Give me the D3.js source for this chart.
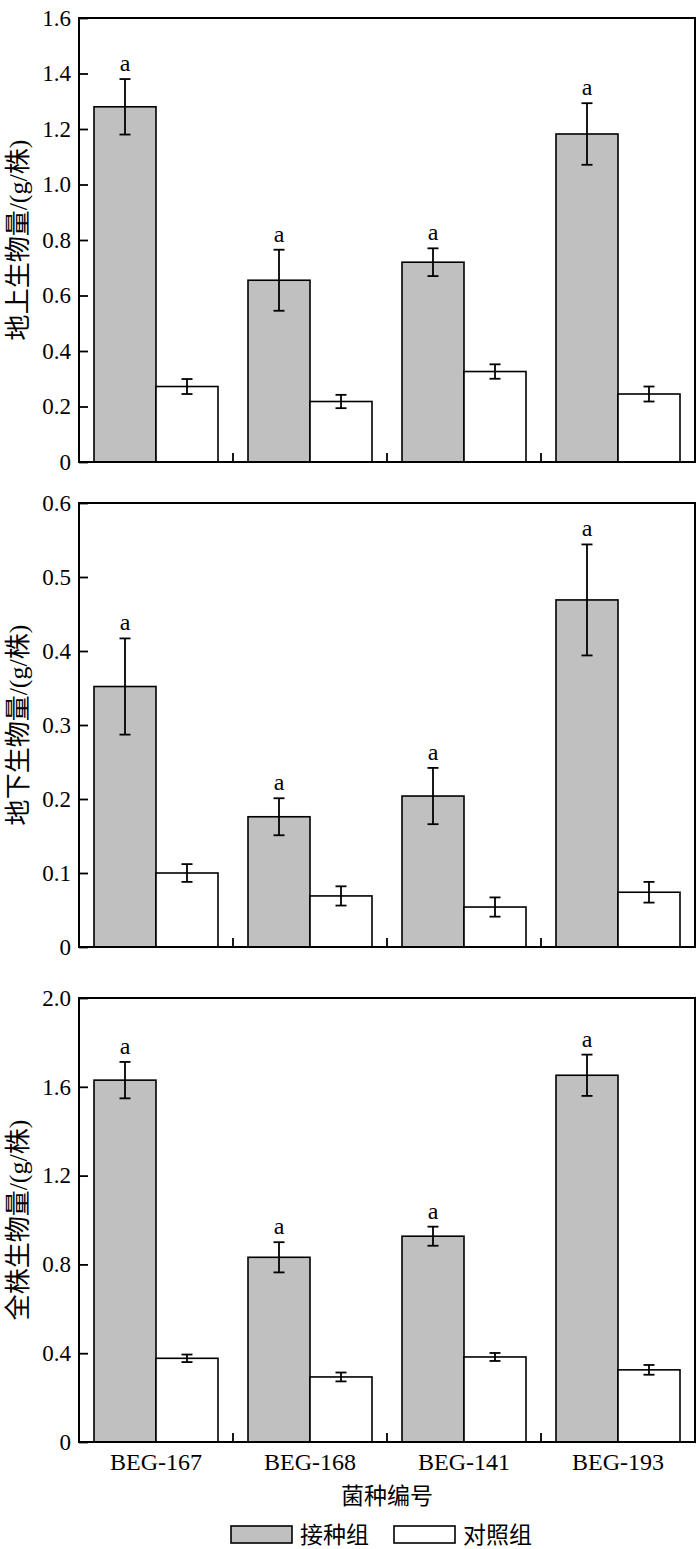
<!DOCTYPE html>
<html>
<head>
<meta charset="utf-8">
<script src="https://cdn.jsdelivr.net/npm/d3@7"></script>
<style>
  html, body { margin: 0; padding: 0; background: #fff; }
  svg text { font-family: "Liberation Serif", "Noto Sans CJK SC", serif; fill: #000; }
  .cjk { font-family: "Noto Sans CJK SC", sans-serif; }
</style>
</head>
<body>
<svg id="chart" width="700" height="1549"></svg>
<script>
// strains on the x axis
var categories = ["BEG-167", "BEG-168", "BEG-141", "BEG-193"];
var seriesNames = ["接种组", "对照组"];

// above-ground biomass (g/plant)
var aboveInoc = [1.28, 0.655, 0.72, 1.182],
  aboveInocErr = [0.10, 0.11, 0.05, 0.111],
  aboveCtrl = [0.272, 0.218, 0.326, 0.245],
  aboveCtrlErr = [0.027, 0.024, 0.026, 0.027];

// below-ground biomass (g/plant)
var belowInoc = [0.352, 0.176, 0.204, 0.469],
  belowInocErr = [0.065, 0.025, 0.038, 0.075],
  belowCtrl = [0.100, 0.069, 0.054, 0.074],
  belowCtrlErr = [0.012, 0.013, 0.013, 0.014];

// whole-plant biomass (g/plant)
var totalInoc = [1.63, 0.832, 0.927, 1.652],
  totalInocErr = [0.082, 0.068, 0.043, 0.093],
  totalCtrl = [0.377, 0.293, 0.383, 0.325],
  totalCtrlErr = [0.017, 0.020, 0.018, 0.022];

// significance letters over the inoculated bars
var letters = ["a", "a", "a", "a"];

// tick values per panel
var aboveTicks = [0, 0.2, 0.4, 0.6, 0.8, 1.0, 1.2, 1.4, 1.6],
  belowTicks = [0, 0.1, 0.2, 0.3, 0.4, 0.5, 0.6],
  totalTicks = [0, 0.4, 0.8, 1.2, 1.6, 2.0];

var panels = [
  {title: "地上生物量/(g/株)", inoc: aboveInoc, inocErr: aboveInocErr,
    ctrl: aboveCtrl, ctrlErr: aboveCtrlErr, ticks: aboveTicks, top: 18},
  {title: "地下生物量/(g/株)", inoc: belowInoc, inocErr: belowInocErr,
    ctrl: belowCtrl, ctrlErr: belowCtrlErr, ticks: belowTicks, top: 503},
  {title: "全株生物量/(g/株)", inoc: totalInoc, inocErr: totalInocErr,
    ctrl: totalCtrl, ctrlErr: totalCtrlErr, ticks: totalTicks, top: 998}
];

var left = 79, right = 695, ph = 444,
  serif = '"Liberation Serif", "Noto Sans CJK SC", serif',
  fills = ["#c0c0c0", "#ffffff"],
  fmt = function(d){ return d === 0 ? "0" : d3.format(".1f")(d); };

var svg = d3.select("#chart");

var x = d3.scaleBand().domain(categories).range([left, right]).padding(0),
  xs = d3.scaleBand().domain([0, 1]).range([15, x.bandwidth() - 15]).padding(0);

panels.forEach(function(p, pi){
  var y = d3.scaleLinear()
    .domain([0, d3.max(p.ticks)])
    .range([p.top + ph, p.top]);

  var g = svg.append("g");

  var rows = categories.map(function(c, i){
    return [
      {cat: c, s: 0, v: p.inoc[i], e: p.inocErr[i], letter: letters[i]},
      {cat: c, s: 1, v: p.ctrl[i], e: p.ctrlErr[i]}
    ];
  });
  var bars = d3.merge(rows);

  g.selectAll("rect.bar")
    .data(bars)
    .enter().append("rect")
    .attr("class", "bar")
    .attr("x", function(d){ return x(d.cat) + xs(d.s); })
    .attr("width", xs.bandwidth())
    .attr("y", function(d){ return y(d.v); })
    .attr("height", function(d){ return y(0) - y(d.v); })
    .attr("fill", function(d){ return fills[d.s]; })
    .attr("stroke", "#000")
    .attr("stroke-width", 1.6);

  // error bars
  var err = g.selectAll("g.err")
    .data(bars)
    .enter().append("g")
    .attr("class", "err")
    .attr("stroke", "#000")
    .attr("stroke-width", 1.8);
  var cx = function(d){ return x(d.cat) + xs(d.s) + xs.bandwidth() / 2; };
  err.append("line")
    .attr("x1", cx).attr("x2", cx)
    .attr("y1", function(d){ return y(d.v + d.e); })
    .attr("y2", function(d){ return y(d.v - d.e); });
  [1, -1].forEach(function(sign){
    err.append("line")
      .attr("x1", function(d){ return cx(d) - 5.5; })
      .attr("x2", function(d){ return cx(d) + 5.5; })
      .attr("y1", function(d){ return y(d.v + sign * d.e); })
      .attr("y2", function(d){ return y(d.v + sign * d.e); });
  });

  g.selectAll("text.letter")
    .data(bars.filter(function(d){ return d.letter; }))
    .enter().append("text")
    .attr("class", "letter")
    .attr("x", cx)
    .attr("y", function(d){ return y(d.v + d.e) - 8; })
    .attr("text-anchor", "middle")
    .style("font-size", "24px")
    .text(function(d){ return d.letter; });

  // y axis, ticks inward
  var ya = g.append("g")
    .attr("transform", "translate(" + left + ",0)")
    .call(d3.axisLeft(y).tickValues(p.ticks).tickFormat(fmt)
      .tickSizeInner(-9).tickSizeOuter(0).tickPadding(8));
  ya.attr("font-family", null).attr("font-size", null);
  ya.select(".domain").remove();
  ya.selectAll(".tick line").attr("stroke-width", 1.8);
  ya.selectAll(".tick text")
    .style("font-family", serif)
    .style("font-size", "23px");

  // group separators on the x axis
  g.selectAll("line.sep")
    .data(categories.slice(1))
    .enter().append("line")
    .attr("class", "sep")
    .attr("x1", function(d){ return x(d); })
    .attr("x2", function(d){ return x(d); })
    .attr("y1", y(0))
    .attr("y2", y(0) - 9)
    .attr("stroke", "#000")
    .attr("stroke-width", 1.8);

  // frame
  g.append("rect")
    .attr("x", left).attr("y", p.top)
    .attr("width", right - left).attr("height", ph)
    .attr("fill", "none")
    .attr("stroke", "#000")
    .attr("stroke-width", 2);

  g.append("text")
    .attr("transform", "translate(27," + (p.top + ph / 2) + ") rotate(-90)")
    .attr("text-anchor", "middle")
    .style("font-size", "26px")
    .text(p.title);

  if(pi === panels.length - 1){
    var xa = g.append("g")
      .attr("transform", "translate(0," + y(0) + ")")
      .call(d3.axisBottom(x).tickSize(0));
    xa.attr("font-family", null).attr("font-size", null);
    xa.select(".domain").remove();
    xa.selectAll(".tick text")
      .attr("dy", null)
      .attr("y", 28)
      .style("font-family", serif)
      .style("font-size", "24px");

    svg.append("text")
      .attr("class", "cjk")
      .attr("x", (left + right) / 2)
      .attr("y", y(0) + 62)
      .attr("text-anchor", "middle")
      .style("font-size", "23px")
      .text("菌种编号");
  }
});

// legend
var legendX = [231, 394];
var lg = svg.selectAll("g.legend")
  .data(seriesNames)
  .enter().append("g")
  .attr("class", "legend")
  .attr("transform", function(d, i){ return "translate(" + legendX[i] + ",1526)"; });
lg.append("rect")
  .attr("width", 61).attr("height", 17)
  .attr("fill", function(d, i){ return fills[i]; })
  .attr("stroke", "#000")
  .attr("stroke-width", 1.6);
lg.append("text")
  .attr("class", "cjk")
  .attr("x", 69)
  .attr("y", 17)
  .style("font-size", "23px")
  .text(function(d){ return d; });
</script>
</body>
</html>
